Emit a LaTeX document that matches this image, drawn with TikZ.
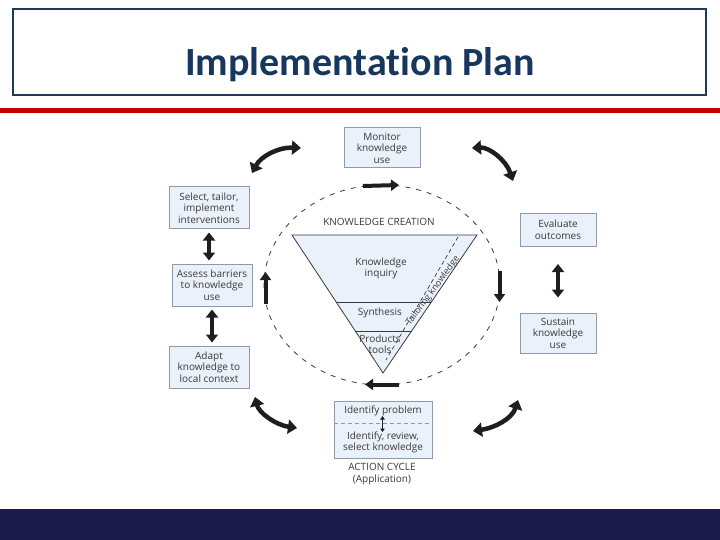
\documentclass[tikz,border=0pt]{standalone}
\usepackage{fontspec}
\setmainfont{Open Sans}
\newfontfamily\titlefont[Ligatures={NoCommon,NoRare,NoContextual}]{Carlito}
\usetikzlibrary{arrows.meta,calc}
\definecolor{navy}{HTML}{17375E}
\definecolor{framecol}{HTML}{1F3A5A}
\definecolor{redbar}{HTML}{C00000}
\definecolor{footbar}{HTML}{1B1A4B}
\definecolor{boxfill}{HTML}{EAF1FA}
\definecolor{boxdraw}{HTML}{8E9AA6}
\definecolor{txt}{HTML}{3A3A3A}
\definecolor{arr}{HTML}{1E1E1E}
\tikzset{
  lbl/.style={text=txt, align=center, inner sep=0pt, font=\fontsize{10}{11.5}\selectfont},
  stepbox/.style={lbl, draw=boxdraw, fill=boxfill, line width=1pt, minimum width=80pt, minimum height=42pt},
  dblarrow/.style={draw=arr, line width=4.5pt, {Triangle[length=8pt,width=12pt]}-{Triangle[length=8pt,width=12pt]}},
  curvarrow/.style={draw=arr, line width=4.5pt, {Triangle[length=9pt,width=14pt]}-{Triangle[length=9pt,width=14pt]}},
  cycarrow/.style={draw=arr, line width=4pt, -{Triangle[length=8pt,width=11pt]}},
  cycle dash/.style={draw=txt, line width=0.8pt, dash pattern=on 5pt off 6pt},
}
\begin{document}
\begin{tikzpicture}[x=1pt,y=-1pt]
\useasboundingbox (0,0) rectangle (720,540);
\fill[white] (0,0) rectangle (720,540);
% header
\draw[framecol, line width=1.5pt] (13,9) rectangle (706,95);
\node[anchor=base, text=navy, inner sep=0pt, font=\titlefont\bfseries\fontsize{40}{44}\selectfont] (title) at (360,76) {Implementat\kern0.3pt ion Plan};
\fill[redbar] (0,108) rectangle (720,113);
\fill[footbar] (0,509) rectangle (720,540);

% dashed cycle
\draw[cycle dash] (382,285) ellipse [x radius=118pt, y radius=100pt];

% knowledge creation funnel
\coordinate (tA) at (292,235);
\coordinate (tB) at (477,235);
\coordinate (tC) at (383,373);
\fill[boxfill] (tA) -- (tB) -- (tC) -- cycle;
\draw[txt, line width=0.8pt] ($(tA)!0.485!(tC)$) -- ($(tB)!0.485!(tC)$);
\draw[txt, line width=0.8pt] ($(tA)!0.696!(tC)$) -- ($(tB)!0.696!(tC)$);
\coordinate (dA) at (458,237);
\coordinate (dB) at (386,360);
\draw[txt, line width=0.7pt, dash pattern=on 4pt off 3pt] (dA) -- (dB);
\draw[txt, line width=0.8pt, line join=miter] (tA) -- (tB) -- (tC) -- cycle;
\node[lbl] (kc) at (379,222) {KNOWLEDGE CREATION};
\node[lbl] (ki) at (381,268.5) {Knowledge\\inquiry};
\node[lbl] (syn) at (380,312.5) {Synthesis};
\node[lbl] (prod) at (380,344) {Products\\tools};
\node[lbl, rotate=53.5, font=\fontsize{9}{10}\selectfont] (tk) at (433,291) {Tailoring knowledge};

% action cycle boxes
\node[stepbox, minimum width=76pt, minimum height=40pt] (mon) at (382,148) {Monitor\\knowledge\\use};
\node[stepbox] (sel) at (209,208) {Select, tailor,\\implement\\interventions};
\node[stepbox] (ass) at (212,285) {Assess barriers\\to knowledge\\use};
\node[stepbox] (ada) at (209,367) {Adapt\\knowledge to\\local context};
\node[stepbox, minimum width=76pt, minimum height=33pt] (eva) at (558,230) {Evaluate\\outcomes};
\node[stepbox, minimum width=76pt, minimum height=40pt] (sus) at (558,333) {Sustain\\knowledge\\use};

% central action box
\node[stepbox, minimum width=98pt, minimum height=57pt] (act) at (383,429.5) {};
\draw[boxdraw, line width=0.9pt, dash pattern=on 4pt off 3pt] (act.west |- 0,423) -- (act.east |- 0,423);
\node[lbl] (idp) at (383,411) {Identify problem};
\node[lbl] (irs) at (383,442.5) {Identify, review,\\select knowledge};
\coordinate (sa1) at (382.5,416);
\coordinate (sa2) at (382.5,432);
\draw[arr, line width=1.3pt, {Triangle[length=3.5pt,width=4.5pt]}-{Triangle[length=3.5pt,width=4.5pt]}] (sa1) -- (sa2);
\node[lbl] (acl) at (382,474) {ACTION CYCLE\\(Application)};

% straight double arrows
\draw[dblarrow, shorten <=3pt, shorten >=3pt] (sel.south) -- (sel.south |- ass.north);
\draw[dblarrow, shorten <=3pt, shorten >=3pt] (ass.south) -- (ass.south |- ada.north);
\draw[dblarrow, shorten <=17pt, shorten >=15pt] (eva.south) -- (eva.south |- sus.north);

% curved double arrows
\coordinate (c1a) at (252,173); \coordinate (c1b) at (301,148);
\draw[curvarrow] (c1a) .. controls (261,156) and (279,147) .. (c1b);
\coordinate (c2a) at (472,148); \coordinate (c2b) at (513,181);
\draw[curvarrow] (c2a) .. controls (489,147) and (506,160) .. (c2b);
\coordinate (c3a) at (255,397); \coordinate (c3b) at (297,428);
\draw[curvarrow] (c3a) .. controls (259,413) and (276,425) .. (c3b);
\coordinate (c4a) at (473,431); \coordinate (c4b) at (518,400);
\draw[curvarrow] (c4a) .. controls (494,428) and (512,419) .. (c4b);

% arrows on the cycle
\coordinate (u1) at (363,186); \coordinate (u2) at (399,185);
\draw[cycarrow] (u1) -- (u2);
\coordinate (r1) at (499.5,271); \coordinate (r2) at (499.5,302);
\draw[cycarrow] (r1) -- (r2);
\coordinate (b1) at (399,384.5); \coordinate (b2) at (365,384.5);
\draw[cycarrow] (b1) -- (b2);
\coordinate (l1) at (265.5,304); \coordinate (l2) at (265.5,272);
\draw[cycarrow] (l1) -- (l2);
\end{tikzpicture}
\end{document}
